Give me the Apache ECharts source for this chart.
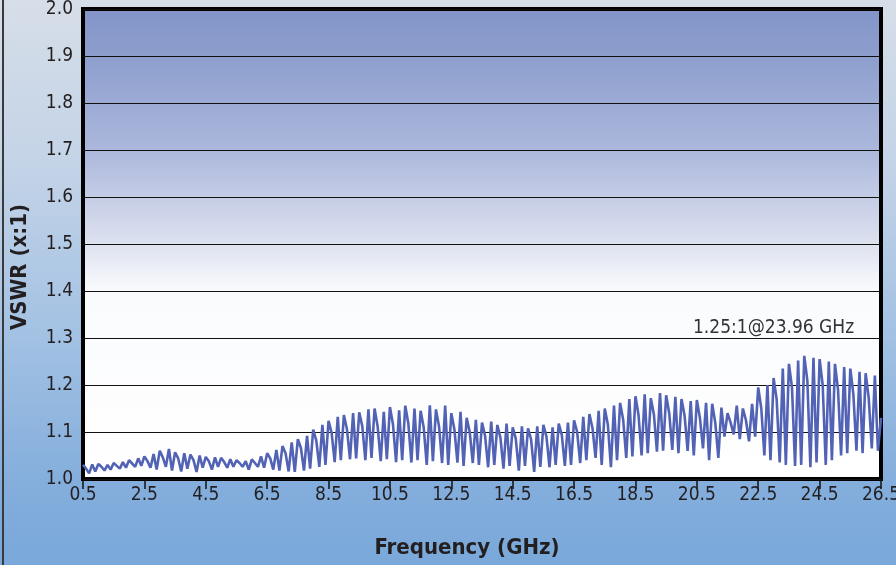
<!DOCTYPE html>
<html>
<head>
<meta charset="utf-8">
<script src="https://cdn.jsdelivr.net/npm/echarts@6/dist/echarts.min.js"></script>
<style>
  html, body { margin: 0; padding: 0; background: #ffffff; }
  #chart { width: 896px; height: 565px; }
</style>
</head>
<body>
<div id="chart"></div>
<script>
// ---- data ----
const freqGHz = [
  0.5, 0.6, 0.7, 0.8, 0.9, 1.0, 1.1, 1.2, 1.3, 1.4,
  1.5, 1.6, 1.7, 1.8, 1.9, 2.0, 2.1, 2.2, 2.3, 2.4,
  2.5, 2.6, 2.7, 2.8, 2.9, 3.0, 3.1, 3.2, 3.3, 3.4,
  3.5, 3.6, 3.7, 3.8, 3.9, 4.0, 4.1, 4.2, 4.3, 4.4,
  4.5, 4.6, 4.7, 4.8, 4.9, 5.0, 5.1, 5.2, 5.3, 5.4,
  5.5, 5.6, 5.7, 5.8, 5.9, 6.0, 6.1, 6.2, 6.3, 6.4,
  6.5, 6.6, 6.7, 6.8, 6.9, 7.0, 7.1, 7.2, 7.3, 7.4,
  7.5, 7.6, 7.7, 7.8, 7.9, 8.0, 8.1, 8.2, 8.3, 8.4,
  8.5, 8.6, 8.7, 8.8, 8.9, 9.0, 9.1, 9.2, 9.3, 9.4,
  9.5, 9.6, 9.7, 9.8, 9.9, 10.0, 10.1, 10.2, 10.3, 10.4,
  10.5, 10.6, 10.7, 10.8, 10.9, 11.0, 11.1, 11.2, 11.3, 11.4,
  11.5, 11.6, 11.7, 11.8, 11.9, 12.0, 12.1, 12.2, 12.3, 12.4,
  12.5, 12.6, 12.7, 12.8, 12.9, 13.0, 13.1, 13.2, 13.3, 13.4,
  13.5, 13.6, 13.7, 13.8, 13.9, 14.0, 14.1, 14.2, 14.3, 14.4,
  14.5, 14.6, 14.7, 14.8, 14.9, 15.0, 15.1, 15.2, 15.3, 15.4,
  15.5, 15.6, 15.7, 15.8, 15.9, 16.0, 16.1, 16.2, 16.3, 16.4,
  16.5, 16.6, 16.7, 16.8, 16.9, 17.0, 17.1, 17.2, 17.3, 17.4,
  17.5, 17.6, 17.7, 17.8, 17.9, 18.0, 18.1, 18.2, 18.3, 18.4,
  18.5, 18.6, 18.7, 18.8, 18.9, 19.0, 19.1, 19.2, 19.3, 19.4,
  19.5, 19.6, 19.7, 19.8, 19.9, 20.0, 20.1, 20.2, 20.3, 20.4,
  20.5, 20.6, 20.7, 20.8, 20.9, 21.0, 21.1, 21.2, 21.3, 21.4,
  21.5, 21.6, 21.7, 21.8, 21.9, 22.0, 22.1, 22.2, 22.3, 22.4,
  22.5, 22.6, 22.7, 22.8, 22.9, 23.0, 23.1, 23.2, 23.3, 23.4,
  23.5, 23.6, 23.7, 23.8, 23.9, 24.0, 24.1, 24.2, 24.3, 24.4,
  24.5, 24.6, 24.7, 24.8, 24.9, 25.0, 25.1, 25.2, 25.3, 25.4,
  25.5, 25.6, 25.7, 25.8, 25.9, 26.0, 26.1, 26.2, 26.3, 26.4,
  26.5
];
const vswr = [
  1.030, 1.022, 1.012, 1.031, 1.016,   1.032, 1.026, 1.018, 1.030, 1.020,
  1.034, 1.028, 1.022, 1.036, 1.024,   1.040, 1.033, 1.026, 1.044, 1.028,
  1.048, 1.038, 1.024, 1.053, 1.020,   1.060, 1.046, 1.026, 1.064, 1.018,
  1.057, 1.044, 1.016, 1.055, 1.022,   1.052, 1.040, 1.015, 1.050, 1.024,
  1.047, 1.038, 1.020, 1.046, 1.026,   1.045, 1.036, 1.024, 1.042, 1.026,
  1.040, 1.034, 1.026, 1.038, 1.020,   1.042, 1.034, 1.026, 1.048, 1.024,
  1.055, 1.044, 1.020, 1.062, 1.018,   1.070, 1.055, 1.016, 1.078, 1.015,
  1.085, 1.066, 1.018, 1.092, 1.022,   1.105, 1.082, 1.026, 1.115, 1.030,
  1.124, 1.098, 1.036, 1.132, 1.040,   1.136, 1.106, 1.042, 1.140, 1.044,
  1.142, 1.112, 1.040, 1.148, 1.045,   1.150, 1.112, 1.038, 1.143, 1.042,
  1.153, 1.116, 1.036, 1.146, 1.040,   1.156, 1.118, 1.035, 1.150, 1.040,
  1.145, 1.110, 1.030, 1.157, 1.038,   1.148, 1.112, 1.034, 1.156, 1.030,
  1.140, 1.106, 1.035, 1.143, 1.028,   1.130, 1.100, 1.034, 1.126, 1.030,
  1.120, 1.092, 1.025, 1.122, 1.030,   1.115, 1.088, 1.022, 1.118, 1.028,
  1.110, 1.086, 1.018, 1.112, 1.028,   1.108, 1.084, 1.015, 1.112, 1.026,
  1.115, 1.090, 1.025, 1.110, 1.030,   1.118, 1.094, 1.028, 1.120, 1.030,
  1.125, 1.100, 1.034, 1.132, 1.040,   1.138, 1.108, 1.045, 1.145, 1.030,
  1.150, 1.116, 1.025, 1.156, 1.040,   1.162, 1.126, 1.045, 1.170, 1.048,
  1.176, 1.136, 1.050, 1.180, 1.055,   1.172, 1.138, 1.058, 1.183, 1.060,
  1.178, 1.140, 1.062, 1.175, 1.055,   1.170, 1.135, 1.060, 1.166, 1.050,
  1.168, 1.130, 1.065, 1.162, 1.040,   1.160, 1.120, 1.045, 1.152, 1.090,
  1.140, 1.120, 1.095, 1.156, 1.085,   1.150, 1.125, 1.080, 1.160, 1.090,
  1.195, 1.150, 1.050, 1.200, 1.040,   1.215, 1.170, 1.035, 1.235, 1.030,
  1.245, 1.195, 1.028, 1.252, 1.030,   1.262, 1.210, 1.025, 1.258, 1.035,
  1.255, 1.200, 1.030, 1.250, 1.040,   1.245, 1.190, 1.050, 1.238, 1.055,
  1.235, 1.180, 1.060, 1.228, 1.055,   1.225, 1.172, 1.065, 1.220, 1.060,
  1.130
];
const xTickValues = [0.5, 2.5, 4.5, 6.5, 8.5, 10.5, 12.5, 14.5, 16.5, 18.5, 20.5, 22.5, 24.5, 26.5];
const annotationText = '1.25:1@23.96 GHz';
const annotationAt = [23.0, 1.30];

// ---- chart ----
const narrow = "'Liberation Sans Narrow', 'DejaVu Sans Condensed', sans-serif";
const seriesData = freqGHz.map((f, i) => [f, vswr[i]]);

const chart = echarts.init(document.getElementById('chart'), null, { renderer: 'canvas' });
chart.setOption({
  animation: false,
  backgroundColor: {
    type: 'linear', x: 0, y: 0, x2: 0, y2: 1,
    colorStops: [
      { offset: 0, color: '#d6dee8' },
      { offset: 0.3, color: '#c3d3e7' },
      { offset: 0.6, color: '#a2c1e3' },
      { offset: 0.85, color: '#84aedc' },
      { offset: 1, color: '#79a8da' }
    ]
  },
  graphic: [
    { type: 'line', shape: { x1: 3, y1: 0, x2: 3, y2: 565 }, style: { stroke: '#3a3a3a', lineWidth: 2 } }
  ],
  grid: {
    left: 83, right: 15, top: 9, bottom: 86,
    containLabel: false,
    outerBoundsMode: 'none',
    show: true,
    borderColor: '#000000',
    borderWidth: 4,
    backgroundColor: {
      type: 'linear', x: 0, y: 0, x2: 0, y2: 1,
      colorStops: [
        { offset: 0, color: '#8294c8' },
        { offset: 0.1, color: '#8d9ecd' },
        { offset: 0.3, color: '#abb7dc' },
        { offset: 0.5, color: '#dde2ef' },
        { offset: 0.6, color: '#fafbfd' },
        { offset: 1, color: '#ffffff' }
      ]
    }
  },
  xAxis: {
    type: 'value',
    min: 0.5, max: 26.5,
    name: 'Frequency (GHz)',
    nameLocation: 'middle',
    nameGap: 58,
    nameTextStyle: { fontFamily: narrow, fontWeight: 'bold', fontSize: 22, color: '#231f20', padding: [0, 30, 0, 0] },
    axisLine: { show: false },
    axisTick: { show: true, customValues: xTickValues, length: 10, lineStyle: { color: '#111', width: 1.5 } },
    axisLabel: {
      customValues: xTickValues,
      margin: 7,
      fontFamily: narrow, fontSize: 19, color: '#231f20',
      formatter: v => v.toFixed(1)
    },
    splitLine: { show: false }
  },
  yAxis: {
    type: 'value',
    min: 1.0, max: 2.0, interval: 0.1,
    name: 'VSWR (x:1)',
    nameLocation: 'middle',
    nameRotate: 90,
    nameGap: 52,
    nameTextStyle: { fontFamily: narrow, fontWeight: 'bold', fontSize: 22, color: '#231f20', padding: [0, 46, 0, 0] },
    axisLine: { show: false },
    axisTick: { show: false },
    axisLabel: {
      margin: 10,
      fontFamily: narrow, fontSize: 19, color: '#231f20',
      formatter: v => v.toFixed(1)
    },
    splitLine: { show: true, lineStyle: { color: '#111111', width: 1 } }
  },
  series: [{
    type: 'line',
    data: seriesData,
    showSymbol: false,
    symbol: 'none',
    lineStyle: { color: '#5263b5', width: 2.6 },
    markPoint: {
      symbol: 'circle', symbolSize: 0,
      label: {
        show: true, position: 'top', distance: 0,
        formatter: annotationText,
        fontFamily: narrow, fontSize: 19, color: '#333333'
      },
      data: [{ coord: annotationAt }]
    }
  }]
});
</script>
</body>
</html>
